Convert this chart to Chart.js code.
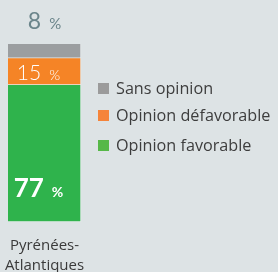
<!DOCTYPE html>
<html><head><meta charset="utf-8">
<script src="https://cdn.jsdelivr.net/npm/chart.js@4/dist/chart.umd.min.js"></script>
<style>
html,body{margin:0;padding:0;background:#dde3e5;overflow:hidden;}
#wrap{position:relative;width:278px;height:272px;}
#legend{position:absolute;left:98px;top:78px;font-family:"Open Sans",Lato,sans-serif;font-size:16.2px;color:#3d3d3d;}
#legend div{display:flex;align-items:center;height:20px;white-space:nowrap;}
#legend div.r0{margin-bottom:7px;}
#legend div.r1{margin-bottom:10px;}
#legend span.b{display:inline-block;width:11px;height:11px;margin-right:7px;}
</style></head>
<body><div id="wrap"><canvas id="c" width="278" height="272"></canvas><div id="legend"></div></div>
<script>
const categories = [["Pyrénées-","Atlantiques"]];
const seriesNames = ["Opinion favorable","Opinion défavorable","Sans opinion"];
const favorable = [77];
const defavorable = [15];
const sansOpinion = [8];
const barColors = ["#2fb34c","#f58426","#9b9ea0"];
const legendColors = ["#56b848","#f5843a","#9b9b9b"];

const labelPlugin = {
  id:'lbl',
  afterDatasetsDraw(chart){
    const ctx = chart.ctx;
    const specs = [
      {ds:0, size:26, small:14, weight:'bold', color:'#ffffff', dx:-6},
      {ds:1, size:21, small:14, weight:'300', color:'#ffffff', dx:-6},
      {ds:2, size:23, small:15, weight:'normal', color:'#6b858b', dx:0}
    ];
    specs.forEach(s=>{
      const meta = chart.getDatasetMeta(s.ds);
      meta.data.forEach((el,i)=>{
        const v = chart.data.datasets[s.ds].data[i];
        const fam = 'Lato, "Open Sans", sans-serif';
        ctx.save();
        ctx.fillStyle = s.color;
        ctx.textBaseline = 'alphabetic';
        ctx.font = s.weight + ' ' + s.size + 'px ' + fam;
        const t1 = String(v);
        const w1 = ctx.measureText(t1).width;
        ctx.font = s.weight + ' ' + s.small + 'px ' + fam;
        const t2 = '%';
        const gap = 8;
        const w2 = ctx.measureText(t2).width;
        const total = w1 + gap + w2;
        const cx = el.x + s.dx;
        let y;
        if (s.ds===2) y = el.y - 15;
        else if (s.ds===0) y = 197;
        else y = (el.y + el.base)/2 + 8;
        const x = cx - total/2;
        ctx.textAlign='left';
        ctx.font = s.weight + ' ' + s.size + 'px ' + fam;
        ctx.fillText(t1, x, y);
        ctx.font = s.weight + ' ' + s.small + 'px ' + fam;
        ctx.fillText(t2, x + w1 + gap, y);
        ctx.restore();
      });
    });
  }
};

const chart = new Chart(document.getElementById('c'), {
  type:'bar',
  data:{
    labels:categories,
    datasets:[
      {label:seriesNames[0], data:favorable, backgroundColor:barColors[0]},
      {label:seriesNames[1], data:defavorable, backgroundColor:barColors[1]},
      {label:seriesNames[2], data:sansOpinion, backgroundColor:barColors[2]}
    ].map(d=>Object.assign(d,{barThickness:73, clip:false, borderWidth:{right:1,bottom:1}, borderColor:'rgba(255,255,255,0.35)', borderSkipped:false}))
  },
  options:{
    responsive:false, animation:false,
    layout:{padding:{left:0,right:189,top:44,bottom:0}},
    plugins:{legend:{display:false}, tooltip:{enabled:false}},
    scales:{
      x:{stacked:true, grid:{display:false}, border:{display:false},
         afterFit(scale){ scale.height = 50; scale.paddingLeft = 0; scale.paddingRight = 0; },
         ticks:{color:'#3a3a3a', font:{family:'"Open Sans", Lato, sans-serif', size:15, lineHeight:'20px'}, padding:6, maxRotation:0, autoSkip:false}},
      y:{stacked:true, display:false, min:0, max:100}
    }
  },
  plugins:[labelPlugin]
});

const lg = document.getElementById('legend');
[2,1,0].forEach((i,k)=>{
  const d = document.createElement('div');
  d.className = 'r'+k;
  d.innerHTML = '<span class="b" style="background:'+legendColors[i]+'"></span>'+seriesNames[i];
  lg.appendChild(d);
});
</script></body></html>
